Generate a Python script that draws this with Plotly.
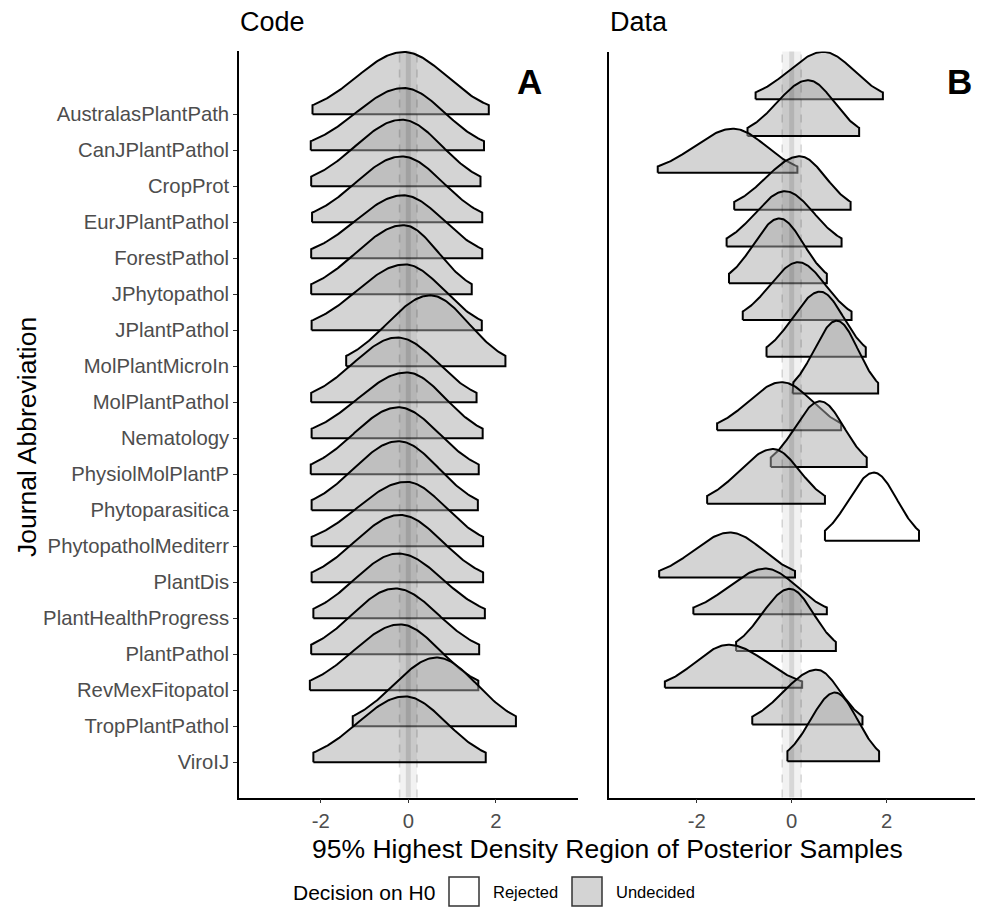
import numpy as np
import plotly.graph_objects as go

# ---------------- data ----------------
journals = ["AustralasPlantPath", "CanJPlantPathol", "CropProt", "EurJPlantPathol",
            "ForestPathol", "JPhytopathol", "JPlantPathol", "MolPlantMicroIn",
            "MolPlantPathol", "Nematology", "PhysiolMolPlantP", "Phytoparasitica",
            "PhytopatholMediterr", "PlantDis", "PlantHealthProgress", "PlantPathol",
            "RevMexFitopatol", "TropPlantPathol", "ViroIJ"]

# Panel A: Code  (95% HDI lower, mode, upper, scaled density peak in row units)
code_lo = [-2.19, -2.23, -2.22, -2.20, -2.22, -2.22, -2.21, -1.42, -2.22, -2.21,
           -2.23, -2.21, -2.21, -2.21, -2.17, -2.22, -2.25, -1.27, -2.17]
code_mode = [-0.11, -0.11, -0.15, -0.15, -0.12, -0.11, -0.08, 0.50, -0.25, -0.04,
             -0.23, -0.23, -0.05, -0.19, -0.23, -0.30, -0.19, 0.65, -0.08]
code_hi = [1.84, 1.73, 1.65, 1.69, 1.69, 1.45, 1.68, 2.22, 1.56, 1.70,
           1.61, 1.59, 1.71, 1.71, 1.75, 1.62, 1.60, 2.46, 1.77]
code_peak = [1.73, 1.73, 1.85, 1.83, 1.75, 1.92, 1.83, 1.97, 1.80, 1.83,
             1.86, 1.92, 1.79, 1.87, 1.80, 1.83, 1.83, 1.91, 1.83]
code_decision = ["Undecided"] * 19

# Panel B: Data
data_lo = [-0.76, -0.93, -2.82, -1.21, -1.37, -1.32, -1.03, -0.53, 0.02, -1.57,
           -0.44, -1.78, 0.70, -2.79, -2.07, -1.17, -2.67, -0.83, -0.09]
data_mode = [0.67, 0.35, -1.23, 0.17, -0.14, -0.26, 0.14, 0.60, 0.95, -0.21,
             0.60, -0.39, 1.73, -1.30, -0.55, -0.04, -1.33, 0.53, 0.91]
data_hi = [1.92, 1.42, 0.12, 1.24, 1.05, 0.74, 1.26, 1.56, 1.82, 1.04,
           1.58, 0.70, 2.68, 0.07, 0.74, 0.93, 0.22, 1.49, 1.84]
data_peak = [1.29, 1.52, 1.20, 1.45, 1.50, 1.76, 1.57, 1.77, 1.98, 1.31,
             1.79, 1.49, 1.85, 1.22, 1.24, 1.69, 1.17, 1.49, 1.87]
data_decision = ["Undecided"] * 12 + ["Rejected"] + ["Undecided"] * 6

decisions = ["Rejected", "Undecided"]
decision_fill = {"Rejected": "rgba(255,255,255,0.5)", "Undecided": "rgba(170,170,170,0.5)"}
rope = 0.2

# ---------------- figure ----------------
W, H = 982, 907
FONT = "Liberation Sans, Arial, Helvetica, sans-serif"


def px(x):
    return x / W


def py(y):
    return 1 - y / H


fig = go.Figure()


def add_ridges(lo, mode, hi, peak, decision, xa, ya):
    n = len(journals)
    for k in range(n):
        base = n - k
        xs = np.linspace(lo[k], hi[k], 120)
        sl = (mode[k] - lo[k]) / 1.96
        sr = (hi[k] - mode[k]) / 1.96
        s = np.where(xs < mode[k], sl, sr)
        ys = base + peak[k] * np.exp(-0.5 * ((xs - mode[k]) / s) ** 2)
        X = np.concatenate([[lo[k]], xs, [hi[k], lo[k]]])
        Y = np.concatenate([[base], ys, [base, base]])
        fig.add_trace(go.Scatter(
            x=X, y=Y, mode="lines", fill="toself",
            fillcolor=decision_fill[decision[k]],
            line=dict(color="black", width=2),
            xaxis=xa, yaxis=ya, showlegend=False, hoverinfo="skip"))


add_ridges(code_lo, code_mode, code_hi, code_peak, code_decision, "x", "y")
add_ridges(data_lo, data_mode, data_hi, data_peak, data_decision, "x2", "y2")

# ROPE overlay
shapes = []
for xr, yr in [("x", "y domain"), ("x2", "y2 domain")]:
    shapes.append(dict(type="rect", xref=xr, yref=yr, x0=-rope, x1=rope, y0=0, y1=1,
                       fillcolor="rgba(0,0,0,0.05)", line=dict(width=0), layer="above"))
    shapes.append(dict(type="line", xref=xr, yref=yr, x0=0, x1=0, y0=0, y1=1,
                       line=dict(color="rgba(0,0,0,0.11)", width=5), layer="above"))
    for v in (-rope, rope):
        shapes.append(dict(type="line", xref=xr, yref=yr, x0=v, x1=v, y0=0, y1=1,
                           line=dict(color="rgba(0,0,0,0.14)", width=1.6, dash="8px,7px"),
                           layer="above"))

# legend boxes (manual, ggplot style)
leg_boxes = [(449, 479), (572, 602)]
for (x0, x1), d in zip(leg_boxes, decisions):
    shapes.append(dict(type="rect", xref="paper", yref="paper",
                       x0=px(x0), x1=px(x1), y0=py(906), y1=py(877),
                       fillcolor=decision_fill[d], line=dict(color="#333333", width=1.5)))

annotations = [
    dict(text="Code", x=px(238), y=py(22), xref="paper", yref="paper",
         xanchor="left", yanchor="middle", showarrow=False,
         font=dict(size=27, color="black", family=FONT)),
    dict(text="Data", x=px(608), y=py(22), xref="paper", yref="paper",
         xanchor="left", yanchor="middle", showarrow=False,
         font=dict(size=27, color="black", family=FONT)),
    dict(text="<b>A</b>", x=px(529), y=py(81), xref="paper", yref="paper",
         xanchor="center", yanchor="middle", showarrow=False,
         font=dict(size=35, color="black", family=FONT)),
    dict(text="<b>B</b>", x=px(959), y=py(81), xref="paper", yref="paper",
         xanchor="center", yanchor="middle", showarrow=False,
         font=dict(size=35, color="black", family=FONT)),
    dict(text="95% Highest Density Region of Posterior Samples", x=px(607), y=py(849),
         xref="paper", yref="paper", xanchor="center", yanchor="middle", showarrow=False,
         font=dict(size=26.5, color="black", family=FONT)),
    dict(text="Journal Abbreviation", x=px(27), y=py(437), xref="paper", yref="paper",
         xanchor="center", yanchor="middle", textangle=-90, showarrow=False,
         font=dict(size=26.5, color="black", family=FONT)),
    dict(text="Decision on H0", x=px(291), y=py(892), xref="paper", yref="paper",
         xanchor="left", yanchor="middle", showarrow=False,
         font=dict(size=21, color="black", family=FONT)),
    dict(text=decisions[0], x=px(491), y=py(892), xref="paper", yref="paper",
         xanchor="left", yanchor="middle", showarrow=False,
         font=dict(size=16.5, color="black", family=FONT)),
    dict(text=decisions[1], x=px(614), y=py(892), xref="paper", yref="paper",
         xanchor="left", yanchor="middle", showarrow=False,
         font=dict(size=16.5, color="black", family=FONT)),
]

xticks = [-2, 0, 2]
axis_common = dict(showgrid=False, zeroline=False, showline=True, linecolor="black",
                   linewidth=1.6, ticks="outside", ticklen=4, tickwidth=1.3,
                   tickcolor="#333333", tickfont=dict(size=20.3, color="#4D4D4D", family=FONT))

n = len(journals)
fig.update_layout(
    width=W, height=H, margin=dict(l=0, r=0, t=0, b=0),
    paper_bgcolor="white", plot_bgcolor="white", showlegend=False,
    font=dict(family=FONT),
    xaxis=dict(domain=[px(239), px(578)], range=[-3.870, 3.879], anchor="y",
               tickvals=xticks, ticktext=[str(v) for v in xticks], **axis_common),
    yaxis=dict(domain=[py(797.5), py(50.5)], range=[0.022, 20.772], anchor="x",
               tickvals=[n - k for k in range(n)], ticktext=journals, **axis_common),
    xaxis2=dict(domain=[px(609), px(975)], range=[-3.846, 3.859], anchor="y2",
                tickvals=xticks, ticktext=[str(v) for v in xticks], **axis_common),
    yaxis2=dict(domain=[py(797.5), py(51.5)], range=[0.016, 20.30], anchor="x2",
                **{**axis_common, "ticks": "", "showticklabels": False}),
    shapes=shapes, annotations=annotations,
)

fig.write_html("out.html")
